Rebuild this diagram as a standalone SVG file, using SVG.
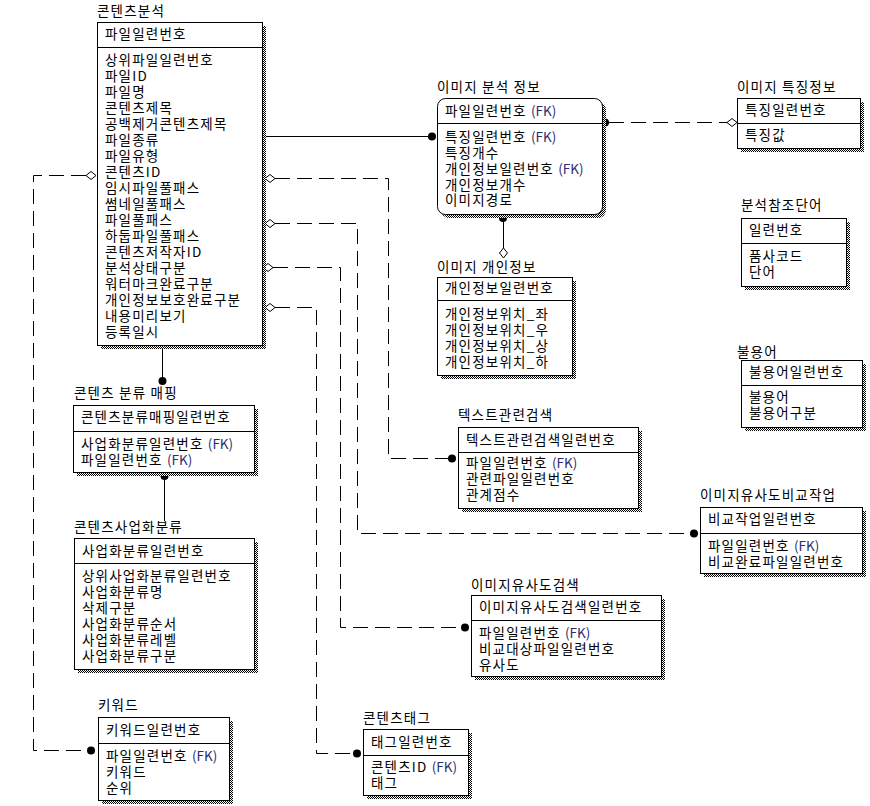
<svg xmlns="http://www.w3.org/2000/svg" width="870" height="806" viewBox="0 0 870 806">
<defs>
<pattern id="hatch" width="2" height="2" patternUnits="userSpaceOnUse"><rect width="2" height="2" fill="#fff"/><rect width="1" height="1" fill="#000"/><rect x="1" y="1" width="1" height="1" fill="#000"/></pattern>
</defs>
<style>
.t { font-family: "Noto Sans CJK KR", "Noto Sans", sans-serif; font-size: 13.5px; letter-spacing: 1.2px; fill: #000; }
.box { fill: #fff; stroke: #000; stroke-width: 1; }
.sh { fill: url(#hatch); }
.ln { stroke: #000; stroke-width: 1; fill: none; }
.dash { stroke-dasharray: 15 7; }
.fk { fill: #2b2b70; letter-spacing: 0; }
.dia { fill: #fff; stroke: #000; stroke-width: 1; }
.dot { fill: #000; }
</style>
<rect width="870" height="806" fill="#fff"/>

<g id="connectors">
<path class="ln" d="M262,136.5 H430"/>
<circle class="dot" cx="432" cy="136.5" r="4"/>
<circle class="dot" cx="605" cy="122.5" r="4"/>
<path class="ln dash" d="M609,122.5 H727"/>
<polygon class="dia" points="727,122.5 732,118.5 737,122.5 732,126.5"/>
<circle class="dot" cx="503" cy="218" r="4"/>
<path class="ln" d="M503.5,218 V248"/>
<polygon class="dia" points="503.5,248 507.5,253 503.5,258 499.5,253"/>
<path class="ln" d="M162.5,345 V378"/>
<circle class="dot" cx="162.5" cy="381" r="4"/>
<circle class="dot" cx="164.5" cy="476" r="4"/>
<path class="ln" d="M164.5,476 V521"/>
<polygon class="dia" points="86,175.5 91,171.5 96,175.5 91,179.5"/>
<path class="ln dash" d="M86,175.5 H33.5 V750.5 H87"/>
<circle class="dot" cx="91" cy="750.5" r="4"/>
<polygon class="dia" points="265,178.5 270,174.5 275,178.5 270,182.5"/>
<path class="ln dash" d="M275,178.5 H388.5 V458.5 H448"/>
<circle class="dot" cx="452" cy="458.5" r="4"/>
<polygon class="dia" points="265,223.5 270,219.5 275,223.5 270,227.5"/>
<path class="ln dash" d="M275,223.5 H357.5 V533.5 H690"/>
<circle class="dot" cx="694" cy="533.5" r="4"/>
<polygon class="dia" points="263,267.5 268,263.5 273,267.5 268,271.5"/>
<path class="ln dash" d="M273,267.5 H340.5 V627.5 H461"/>
<circle class="dot" cx="465" cy="627.5" r="4"/>
<polygon class="dia" points="265,307.5 270,303.5 275,307.5 270,311.5"/>
<path class="ln dash" d="M275,307.5 H316.5 V753.5 H353"/>
<circle class="dot" cx="357" cy="753.5" r="4"/>
</g>

<g id="content-analysis">
<text class="t" x="97" y="16">콘텐츠분석</text>
<rect class="sh" x="101" y="26" width="165" height="323"/>
<rect class="box" x="97.5" y="22.5" width="165" height="323"/>
<path class="ln" d="M97.5,47.5 H262.5"/>
<text class="t" x="105" y="39">파일일련번호</text>
<text class="t" x="105" y="65">상위파일일련번호</text>
<text class="t" x="105" y="81">파일ID</text>
<text class="t" x="105" y="97">파일명</text>
<text class="t" x="105" y="113">콘텐츠제목</text>
<text class="t" x="105" y="129">공백제거콘텐츠제목</text>
<text class="t" x="105" y="145">파일종류</text>
<text class="t" x="105" y="161">파일유형</text>
<text class="t" x="105" y="177">콘텐츠ID</text>
<text class="t" x="105" y="193">임시파일풀패스</text>
<text class="t" x="105" y="209">썸네일풀패스</text>
<text class="t" x="105" y="225">파일풀패스</text>
<text class="t" x="105" y="241">하둡파일풀패스</text>
<text class="t" x="105" y="257">콘텐츠저작자ID</text>
<text class="t" x="105" y="273">분석상태구분</text>
<text class="t" x="105" y="289">워터마크완료구분</text>
<text class="t" x="105" y="305">개인정보보호완료구분</text>
<text class="t" x="105" y="321">내용미리보기</text>
<text class="t" x="105" y="337">등록일시</text>
</g>

<g id="image-analysis">
<text class="t" x="437" y="92">이미지 분석 정보</text>
<rect class="sh" x="441" y="102" width="165" height="116" rx="8"/>
<rect class="box" x="437.5" y="98.5" width="165" height="116" rx="8"/>
<path class="ln" d="M437.5,123.5 H602.5"/>
<text class="t" x="445" y="116">파일일련번호 <tspan class="fk">(FK)</tspan></text>
<text class="t" x="445" y="142">특징일련번호 <tspan class="fk">(FK)</tspan></text>
<text class="t" x="445" y="158">특징개수</text>
<text class="t" x="445" y="174">개인정보일련번호 <tspan class="fk">(FK)</tspan></text>
<text class="t" x="445" y="190">개인정보개수</text>
<text class="t" x="445" y="205">이미지경로</text>
</g>

<g id="image-feature">
<text class="t" x="737" y="92">이미지 특징정보</text>
<rect class="sh" x="741" y="102" width="123" height="50"/>
<rect class="box" x="737.5" y="98.5" width="123" height="50"/>
<path class="ln" d="M737.5,123.5 H860.5"/>
<text class="t" x="745" y="115">특징일련번호</text>
<text class="t" x="745" y="140">특징값</text>
</g>

<g id="analysis-ref-word">
<text class="t" x="741" y="210">분석참조단어</text>
<rect class="sh" x="745" y="222" width="105" height="68"/>
<rect class="box" x="741.5" y="218.5" width="105" height="68"/>
<path class="ln" d="M741.5,243.5 H846.5"/>
<text class="t" x="749" y="235">일련번호</text>
<text class="t" x="749" y="261">품사코드</text>
<text class="t" x="749" y="277">단어</text>
</g>

<g id="image-privacy">
<text class="t" x="437" y="272">이미지 개인정보</text>
<rect class="sh" x="441" y="281" width="135" height="98"/>
<rect class="box" x="437.5" y="277.5" width="135" height="98"/>
<path class="ln" d="M437.5,300.5 H572.5"/>
<text class="t" x="445" y="293">개인정보일련번호</text>
<text class="t" x="445" y="319">개인정보위치_좌</text>
<text class="t" x="445" y="335">개인정보위치_우</text>
<text class="t" x="445" y="351">개인정보위치_상</text>
<text class="t" x="445" y="367">개인정보위치_하</text>
</g>

<g id="stopword">
<text class="t" x="737" y="357">불용어</text>
<rect class="sh" x="745" y="364" width="121" height="67"/>
<rect class="box" x="741.5" y="360.5" width="121" height="67"/>
<path class="ln" d="M741.5,385.5 H862.5"/>
<text class="t" x="749" y="377">불용어일련번호</text>
<text class="t" x="749" y="402">불용어</text>
<text class="t" x="749" y="418">불용어구분</text>
</g>

<g id="content-category-mapping">
<text class="t" x="74" y="398">콘텐츠 분류 매핑</text>
<rect class="sh" x="77" y="409" width="181" height="67"/>
<rect class="box" x="73.5" y="405.5" width="181" height="67"/>
<path class="ln" d="M73.5,431.5 H254.5"/>
<text class="t" x="81" y="422">콘텐츠분류매핑일련번호</text>
<text class="t" x="81" y="449">사업화분류일련번호 <tspan class="fk">(FK)</tspan></text>
<text class="t" x="81" y="465">파일일련번호 <tspan class="fk">(FK)</tspan></text>
</g>

<g id="content-business-category">
<text class="t" x="74" y="532">콘텐츠사업화분류</text>
<rect class="sh" x="78" y="542" width="180" height="131"/>
<rect class="box" x="74.5" y="538.5" width="180" height="131"/>
<path class="ln" d="M74.5,563.5 H254.5"/>
<text class="t" x="82" y="556">사업화분류일련번호</text>
<text class="t" x="82" y="581">상위사업화분류일련번호</text>
<text class="t" x="82" y="597">사업화분류명</text>
<text class="t" x="82" y="613">삭제구분</text>
<text class="t" x="82" y="629">사업화분류순서</text>
<text class="t" x="82" y="645">사업화분류레벨</text>
<text class="t" x="82" y="661">사업화분류구분</text>
</g>

<g id="text-related-search">
<text class="t" x="458" y="420">텍스트관련검색</text>
<rect class="sh" x="462" y="431" width="180" height="81"/>
<rect class="box" x="458.5" y="427.5" width="180" height="81"/>
<path class="ln" d="M458.5,452.5 H638.5"/>
<text class="t" x="466" y="445">텍스트관련검색일련번호</text>
<text class="t" x="466" y="468">파일일련번호 <tspan class="fk">(FK)</tspan></text>
<text class="t" x="466" y="484">관련파일일련번호</text>
<text class="t" x="466" y="500">관계점수</text>
</g>

<g id="image-similarity-compare">
<text class="t" x="700" y="500">이미지유사도비교작업</text>
<rect class="sh" x="704" y="511" width="162" height="66"/>
<rect class="box" x="700.5" y="507.5" width="162" height="66"/>
<path class="ln" d="M700.5,533.5 H862.5"/>
<text class="t" x="708" y="524">비교작업일련번호</text>
<text class="t" x="708" y="551">파일일련번호 <tspan class="fk">(FK)</tspan></text>
<text class="t" x="708" y="567">비교완료파일일련번호</text>
</g>

<g id="image-similarity-search">
<text class="t" x="471" y="590">이미지유사도검색</text>
<rect class="sh" x="475" y="599" width="190" height="81"/>
<rect class="box" x="471.5" y="595.5" width="190" height="81"/>
<path class="ln" d="M471.5,620.5 H661.5"/>
<text class="t" x="479" y="612">이미지유사도검색일련번호</text>
<text class="t" x="479" y="638">파일일련번호 <tspan class="fk">(FK)</tspan></text>
<text class="t" x="479" y="654">비교대상파일일련번호</text>
<text class="t" x="479" y="670">유사도</text>
</g>

<g id="keyword">
<text class="t" x="98" y="710">키워드</text>
<rect class="sh" x="102" y="721" width="131" height="83"/>
<rect class="box" x="98.5" y="717.5" width="131" height="83"/>
<path class="ln" d="M98.5,743.5 H229.5"/>
<text class="t" x="106" y="735">키워드일련번호</text>
<text class="t" x="106" y="761">파일일련번호 <tspan class="fk">(FK)</tspan></text>
<text class="t" x="106" y="777">키워드</text>
<text class="t" x="106" y="793">순위</text>
</g>

<g id="content-tag">
<text class="t" x="363" y="723">콘텐츠태그</text>
<rect class="sh" x="367" y="733" width="105" height="66"/>
<rect class="box" x="363.5" y="729.5" width="105" height="66"/>
<path class="ln" d="M363.5,755.5 H468.5"/>
<text class="t" x="371" y="747">태그일련번호</text>
<text class="t" x="371" y="772">콘텐츠ID <tspan class="fk">(FK)</tspan></text>
<text class="t" x="371" y="788">태그</text>
</g>
</svg>
